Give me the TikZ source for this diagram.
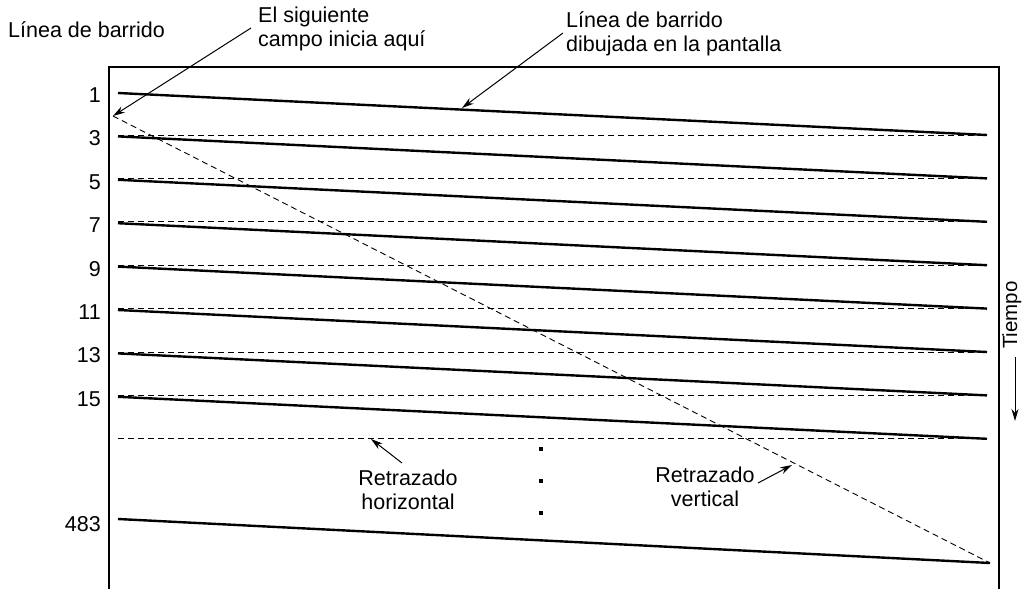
\documentclass[tikz,border=0pt]{standalone}
\usepackage{fontspec}
\setmainfont{Liberation Sans}
\usetikzlibrary{arrows.meta}
\begin{document}
\begin{tikzpicture}[x=1pt,y=-1pt,
  lbl/.style={font=\fontsize{21.5}{23.5}\selectfont, inner sep=0pt},
  num/.style={font=\fontsize{21.5}{23.5}\selectfont, inner sep=0pt, anchor=east},
  scan/.style={line width=2.4pt},
  retrace/.style={dashed, line width=0.9pt, dash pattern=on 6pt off 4pt},
  frame/.style={line width=1.1pt},
  pointer/.style={line width=1pt, -{Stealth[length=12pt,width=7pt]}},
  dotmark/.style={rectangle, fill, inner sep=0pt, minimum size=3.5pt}]
\useasboundingbox (0,0) rectangle (1022,589);
% frame
\draw[frame] (109,589) -- (109,67) -- (999,67) -- (999,589);
% scan lines
\foreach \i/\t [count=\k from 0] in {1/1,3/3,5/5,7/7,9/9,11/11,13/13,15/15}{
  \pgfmathsetmacro{\yl}{93+43.4*\k}
  \pgfmathsetmacro{\yr}{\yl+42}
  \coordinate (s\i) at (118,\yl);
  \coordinate (e\i) at (987,\yr);
  \coordinate (hs\i) at (118,\yr);
  \draw[scan] (s\i) -- (e\i);
  \draw[retrace] (hs\i) -- (e\i);
  \node[num] (n\i) at (101,\yl+2) {\t};
}
\coordinate (s483) at (118,519);
\coordinate (e483) at (990,563);
\draw[scan] (s483) -- (e483);
\node[num] (n483) at (101,524) {483};
% vertical retrace
\coordinate (vstart) at (113,116);
\draw[retrace] (vstart) -- (e483);
% title
\node[lbl, anchor=west] (title) at (8,30) {Línea de barrido};
% next field
\node[lbl, anchor=west, align=left] (next) at (258,29) {El siguiente\\campo inicia aquí};
\coordinate (nexttail) at (251,28);
\draw[pointer] (nexttail) -- (vstart);
% scan line drawn
\node[lbl, anchor=west, align=left] (drawn) at (566,34) {Línea de barrido\\dibujada en la pantalla};
\coordinate (drawntail) at (563,33);
\coordinate (drawnhead) at (462,108);
\draw[pointer] (drawntail) -- (drawnhead);
% horizontal retrace label
\node[lbl, align=center] (hr) at (408,490) {Retrazado\\horizontal};
\coordinate (hrtail) at (402,463);
\coordinate (hrhead) at (371,439);
\draw[pointer] (hrtail) -- (hrhead);
% vertical retrace label
\node[lbl, align=center] (vr) at (705,487) {Retrazado\\vertical};
\coordinate (vrtail) at (758,483);
\coordinate (vrhead) at (792,465);
\draw[pointer] (vrtail) -- (vrhead);
% dots
\node[dotmark] (d1) at (541,449) {};
\node[dotmark] (d2) at (541,481) {};
\node[dotmark] (d3) at (541,513) {};
% time
\node[lbl, font=\fontsize{20.5}{22}\selectfont, rotate=90, anchor=base] (tiempo) at (1017,315) {Tiempo};
\coordinate (ttail) at (1015,357);
\coordinate (thead) at (1015,421);
\draw[pointer] (ttail) -- (thead);
\end{tikzpicture}
\end{document}
